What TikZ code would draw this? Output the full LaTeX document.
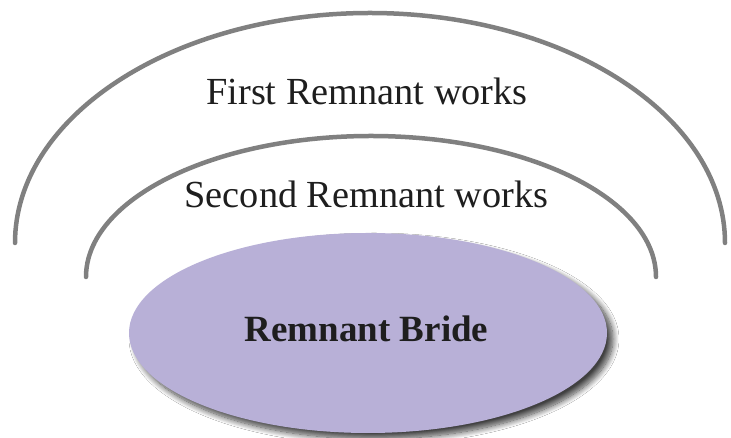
\documentclass[tikz,border=0pt]{standalone}
\usepackage{fontspec}
\setmainfont{Liberation Serif}
\usetikzlibrary{shadows.blur,shapes.geometric}
\definecolor{arcgray}{RGB}{128,128,128}
\definecolor{bridefill}{RGB}{184,176,215}
\definecolor{txt}{RGB}{30,30,30}
\tikzset{
  arcline/.style={draw=arcgray, line width=4.5pt, line cap=round},
  lbl/.style={anchor=base, text=txt, inner sep=0pt, font=\fontsize{38.3}{42}\selectfont},
  bride/.style={ellipse, fill=bridefill, minimum width=478pt, minimum height=200pt, inner sep=0pt,
    blur shadow={shadow xshift=6pt, shadow yshift=-6pt, shadow blur radius=6pt, shadow blur steps=12, shadow opacity=75}}
}
\begin{document}
\begin{tikzpicture}[x=1pt,y=1pt]
\useasboundingbox (0,0) rectangle (731,438);
\fill[white] (0,0) rectangle (731,438);
\draw[arcline] (15,195) arc[start angle=180, end angle=0, x radius=355, y radius=230];
\draw[arcline] (86,161) arc[start angle=180, end angle=0, x radius=285, y radius=141];
\node[bride] (b) at (368,105) {};
\node[lbl] (t1) at (367,333) {First Remnant works};
\node[lbl] (t2) at (366.5,230) {Second Remnant works};
\node[lbl, font=\fontsize{37}{42}\selectfont\bfseries] (t3) at (366.5,96) {Remnant Bride};
\end{tikzpicture}
\end{document}
